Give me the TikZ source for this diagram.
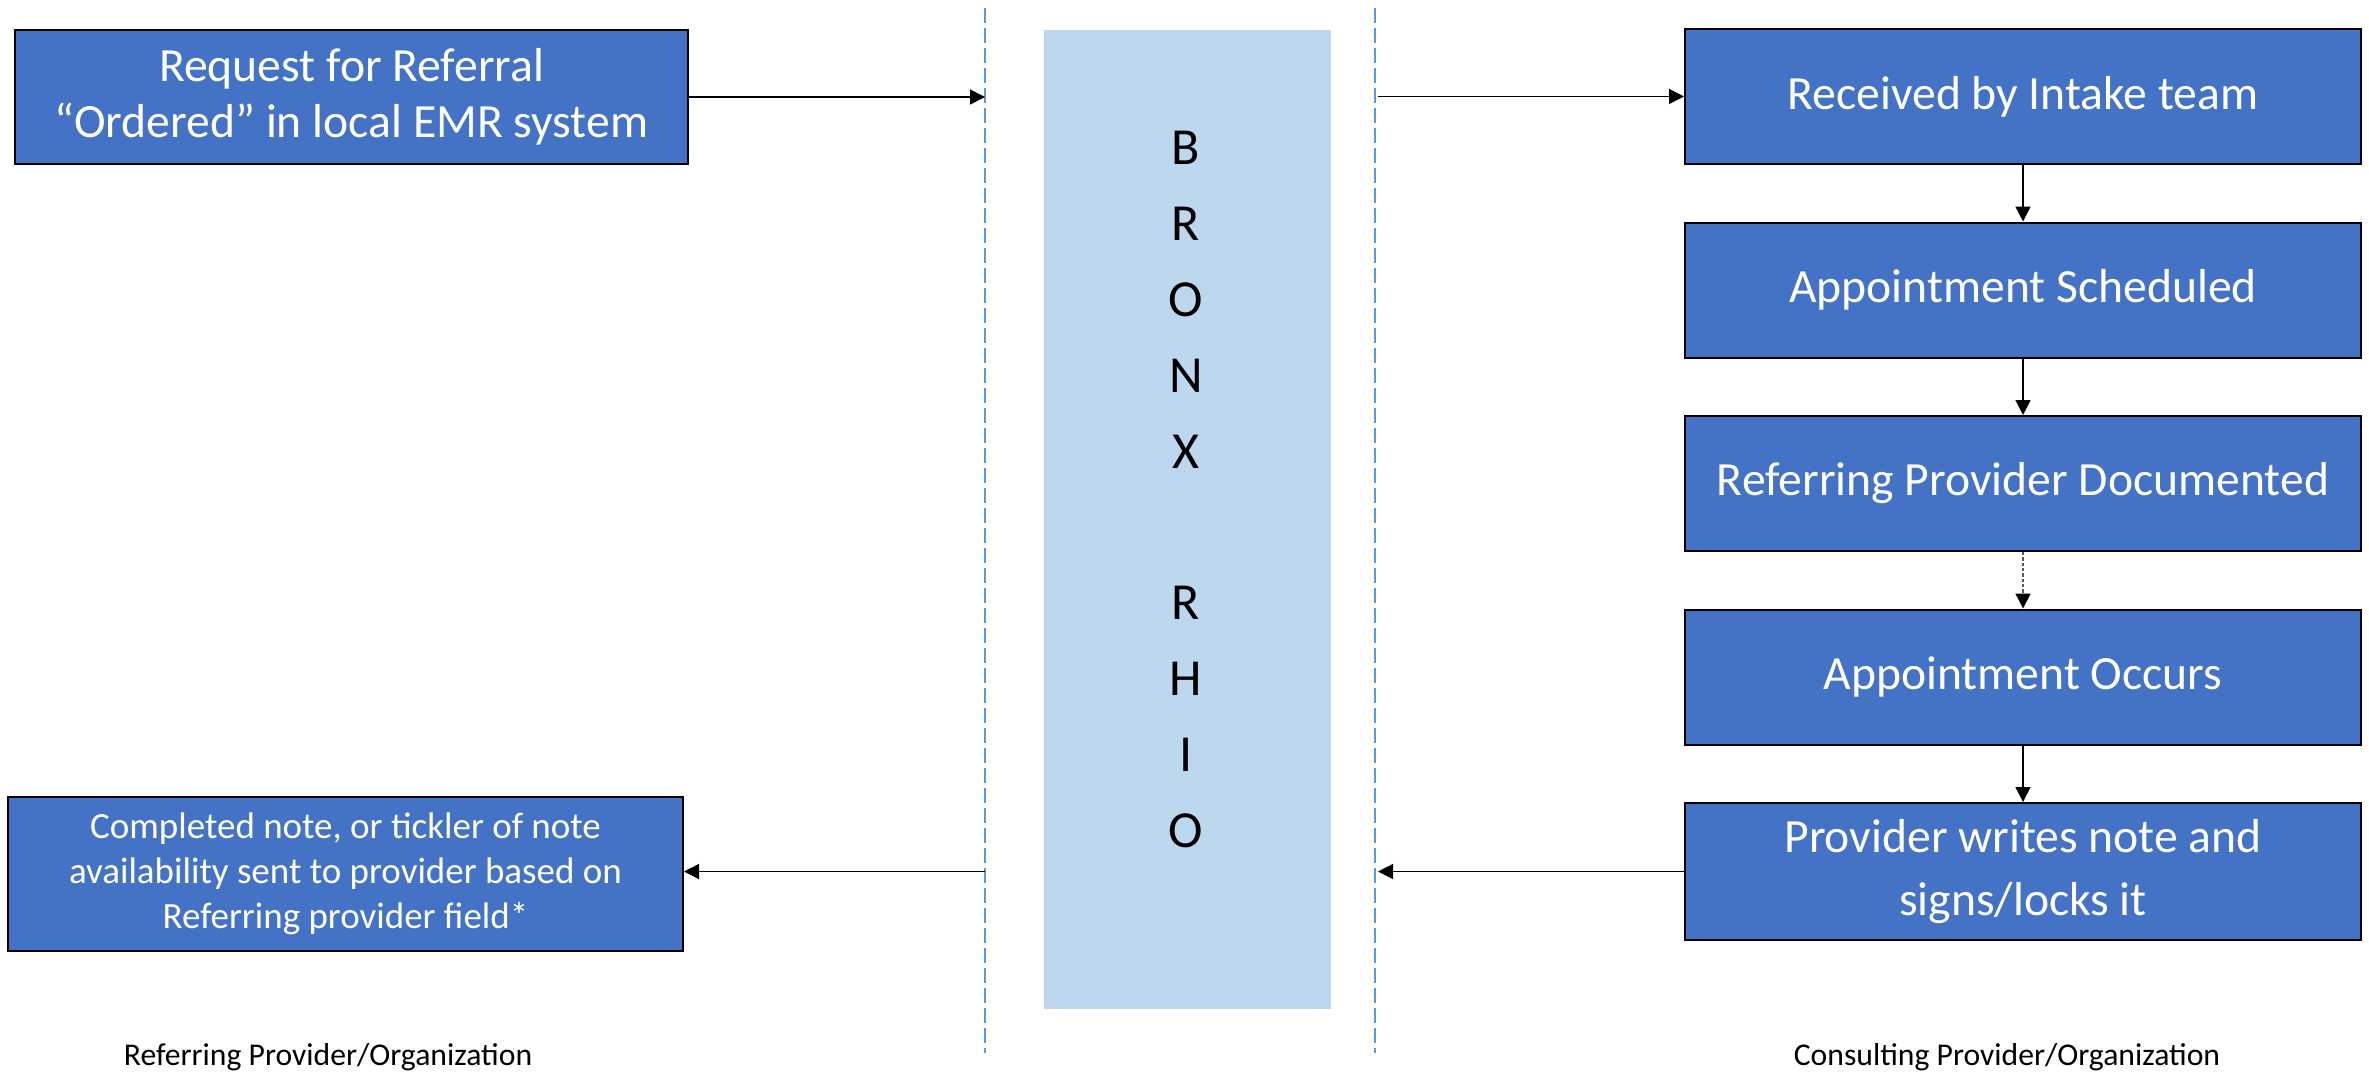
\documentclass[tikz,border=0pt]{standalone}
\usepackage{fontspec}
\setmainfont{Carlito}
\usetikzlibrary{arrows.meta}
\definecolor{boxblue}{HTML}{4472C4}
\definecolor{rhioblue}{HTML}{BDD7EE}
\definecolor{lanecol}{HTML}{5B9BD5}
\tikzset{
  procbox/.style={draw=black, line width=0.6pt, fill=boxblue, text=white, align=center,
    minimum width=202.8pt, minimum height=40.5pt, inner sep=2pt,
    font=\fontsize{14.3}{16.5}\selectfont},
  notebox/.style={procbox, minimum width=202.5pt, minimum height=46.2pt,
    font=\fontsize{11.1}{13.5}\selectfont},
  rhiobox/.style={fill=rhioblue, minimum width=86.1pt, minimum height=293.7pt, inner sep=0pt},
  letter/.style={anchor=base, inner sep=0pt, font=\fontsize{15.6}{18}\selectfont},
  caption/.style={anchor=base, inner sep=0pt, font=\fontsize{9.5}{11}\selectfont},
  flow/.style={-{Triangle[length=4.5pt,width=4.5pt,black]}, line width=0.45pt},
  lane/.style={lanecol, line width=0.45pt, dash pattern=on 4.5pt off 1.5pt},
}
\begin{document}
\begin{tikzpicture}[x=0.3pt,y=-0.3pt]
    \useasboundingbox (0,0) rectangle (2369,1073);

    % lanes
    \draw[lane] (985,8) -- (985,1053);
    \draw[lane] (1375,8) -- (1375,1053);
    \coordinate (laneL) at (985,0);
    \coordinate (laneR) at (1378,0);

    \node[rhiobox] (rhio) at (1187.5,519.5) {};
    \foreach \ch/\i in {B/0,R/1,O/2,N/3,X/4,R/6,H/7,I/8,O/9}
        \node[letter] (ch\i) at (1186,{165+75.8*\i}) {\ch};

    % referring side
    \node[procbox, minimum width=201.9pt, minimum height=40.2pt] (req) at (351.5,97)
        {Request for Referral\\[0.2pt]``Ordered'' in local EMR system};
    \node[notebox] (done) at (345.5,874)
        {Completed note, or tickler of note\\availability sent to provider based on\\Referring provider field*};

    % consulting side
    \node[procbox] (recv) at (2023,96.5) {Received by Intake team};
    \node[procbox] (sched) at (2023,290) {Appointment Scheduled};
    \node[procbox] (refdoc) at (2023,483.5) {Referring Provider Documented};
    \node[procbox] (occurs) at (2023,677) {Appointment Occurs};
    \node[procbox, minimum height=41.1pt] (writes) at (2023,871.5)
        {Provider writes note and\\[2.4pt]signs/locks it};

    \draw[flow] (req.east) -- (req.east -| laneL);
    \draw[flow] (recv.west -| laneR) -- (recv.west);
    \draw[flow] (recv) -- (sched);
    \draw[flow] (sched) -- (refdoc);
    \draw[flow, black!65, dash pattern=on 1pt off 0.6pt] (refdoc) -- (occurs);
    \draw[flow] (occurs) -- (writes);
    \draw[flow] (writes.west) -- (writes.west -| laneR);
    \draw[flow] (writes.west -| laneL) -- (writes.west -| done.east);

    \node[caption] (refcap) at (328,1065) {Referring Provider/Organization};
    \node[caption] (concap) at (2007,1065) {Consulting Provider/Organization};
\end{tikzpicture}
\end{document}
